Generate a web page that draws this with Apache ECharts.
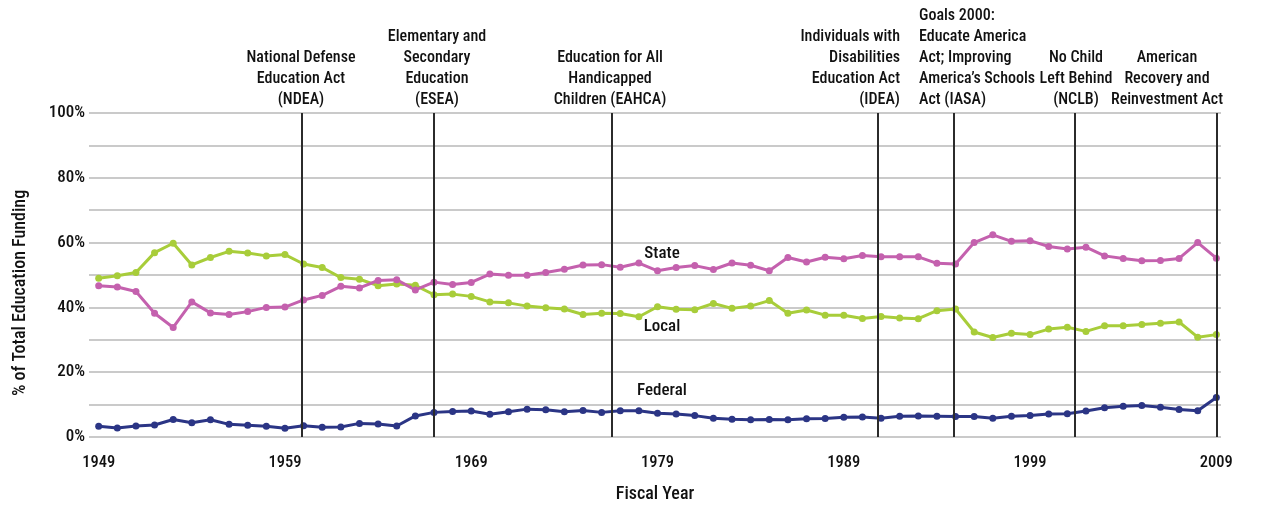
<!DOCTYPE html>
<html>
<head>
<meta charset="utf-8">
<script src="https://cdn.jsdelivr.net/npm/echarts@6/dist/echarts.min.js"></script>
<style>
  html, body { margin: 0; padding: 0; background: #fff; }
  #chart { width: 1274px; height: 508px; }
</style>
</head>
<body>
<div id="chart"></div>
<script>
const years = [
  1949, 1950, 1951, 1952, 1953, 1954, 1955, 1956, 1957, 1958, 1959,
  1960, 1961, 1962, 1963, 1964, 1965, 1966, 1967, 1968, 1969,
  1970, 1971, 1972, 1973, 1974, 1975, 1976, 1977, 1978, 1979,
  1980, 1981, 1982, 1983, 1984, 1985, 1986, 1987, 1988, 1989,
  1990, 1991, 1992, 1993, 1994, 1995, 1996, 1997, 1998, 1999,
  2000, 2001, 2002, 2003, 2004, 2005, 2006, 2007, 2008, 2009
]
const state = [
  46.7, 46.3, 44.9, 38.2, 33.8, 41.7, 38.3, 37.8, 38.7, 40.0, 40.1,
  42.3, 43.7, 46.5, 46.0, 48.3, 48.5, 45.4, 47.8, 47.1, 47.7,
  50.3, 49.9, 49.9, 50.8, 51.8, 53.1, 53.2, 52.4, 53.7, 51.3,
  52.3, 52.9, 51.7, 53.7, 53.0, 51.3, 55.4, 54.0, 55.5, 55.0,
  56.0, 55.6, 55.6, 55.6, 53.6, 53.4, 60.0, 62.4, 60.4, 60.6,
  58.8, 58.0, 58.6, 55.9, 55.1, 54.4, 54.5, 55.1, 60.0, 55.2
]
const local = [
  49.0, 49.8, 50.8, 56.9, 59.8, 53.1, 55.4, 57.3, 56.8, 55.9, 56.3,
  53.4, 52.3, 49.2, 48.7, 46.7, 47.2, 46.8, 43.9, 44.1, 43.4,
  41.7, 41.4, 40.4, 39.9, 39.5, 37.8, 38.2, 38.1, 37.1, 40.2,
  39.4, 39.3, 41.2, 39.7, 40.4, 42.1, 38.2, 39.2, 37.6, 37.6,
  36.6, 37.2, 36.7, 36.5, 39.0, 39.5, 32.4, 30.7, 32.0, 31.6,
  33.3, 33.9, 32.6, 34.3, 34.3, 34.7, 35.1, 35.5, 30.8, 31.6
]
const federal = [
  3.3, 2.8, 3.4, 3.7, 5.4, 4.4, 5.3, 3.9, 3.6, 3.3, 2.7,
  3.5, 3.0, 3.1, 4.2, 4.0, 3.4, 6.5, 7.6, 7.9, 8.0,
  7.0, 7.8, 8.6, 8.4, 7.8, 8.2, 7.6, 8.1, 8.1, 7.3,
  7.1, 6.6, 5.8, 5.5, 5.3, 5.4, 5.3, 5.6, 5.7, 6.1,
  6.2, 5.8, 6.4, 6.5, 6.4, 6.3, 6.3, 5.8, 6.4, 6.6,
  7.1, 7.2, 8.0, 9.0, 9.5, 9.7, 9.2, 8.5, 8.1, 12.2
]
const tickYears = [1949, 1959, 1969, 1979, 1989, 1999, 2009]
// where the act lines sit on the year axis, as drawn
const actLines = [1959.92, 1967.0, 1976.54, 1990.8, 1994.9, 2001.4, 2009.0]
const actLabels = [
  'National Defense\nEducation Act\n(NDEA)',
  'Elementary and\nSecondary\nEducation\n(ESEA)',
  'Education for All\nHandicapped\nChildren (EAHCA)',
  'Individuals with\nDisabilities\nEducation Act\n(IDEA)',
  'Goals 2000:\nEducate America\nAct; Improving\nAmerica\u2019s Schools\nAct (IASA)',
  'No Child\nLeft Behind\n(NCLB)',
  'American\nRecovery and\nReinvestment Act'
]
// caption anchor (px) and alignment for each act
const actLabelPos = [
  [301, 'center'], [437, 'center'], [610, 'center'], [900, 'right'],
  [919, 'left'], [1076, 'center'], [1167, 'center']
]

const FONT = '"Roboto Condensed", "Liberation Sans Narrow", sans-serif'
const INK = '#111111'
const WEIGHT = 500

const chart = echarts.init(document.getElementById('chart'))

function pairs(vals) { return years.map((y, i) => [y, vals[i]]) }

function lineSeries(name, color, vals, labelAt, extra) {
  return Object.assign({
    name,
    type: 'line',
    data: pairs(vals),
    symbol: 'circle',
    symbolSize: 7,
    lineStyle: { color, width: 3 },
    itemStyle: { color },
    emphasis: { disabled: true },
    markPoint: {
      silent: true,
      symbol: 'circle',
      symbolSize: 0,
      data: [{
        coord: labelAt,
        label: { show: true, position: 'inside', formatter: name, color: INK, fontSize: 17, fontWeight: WEIGHT, fontFamily: FONT }
      }]
    }
  }, extra || {})
}

chart.setOption({
  animation: false,
  textStyle: { fontFamily: FONT },
  grid: { left: 89, right: 53, top: 113, bottom: 68 },
  xAxis: {
    type: 'value',
    min: 1948.48,
    max: 2009.25,
    name: 'Fiscal Year',
    nameLocation: 'middle',
    nameGap: 48,
    nameTextStyle: { color: INK, fontSize: 18, fontWeight: WEIGHT, fontFamily: FONT },
    axisLine: { show: false },
    axisTick: { show: false },
    splitLine: { show: false },
    axisLabel: {
      customValues: tickYears,
      color: INK, fontSize: 16.5, fontWeight: WEIGHT, fontFamily: FONT, margin: 17,
      formatter: v => String(v)
    }
  },
  yAxis: {
    type: 'value',
    min: 0,
    max: 100,
    interval: 10,
    axisLine: { show: false },
    axisTick: { show: false },
    splitLine: { lineStyle: { color: '#b8b8b8', width: 1.5 } },
    axisLabel: {
      color: INK, fontSize: 17, fontWeight: WEIGHT, fontFamily: FONT, margin: 4,
      formatter: v => (v % 20 === 0 ? v + '%' : '')
    }
  },
  series: [
    lineSeries('Local', '#a8cd3a', local, [1979.24, 34.0]),
    lineSeries('State', '#c461ae', state, [1979.24, 56.6]),
    lineSeries('Federal', '#2b3585', federal, [1979.24, 14.4], {
      markLine: {
        silent: true,
        symbol: 'none',
        label: { show: false },
        lineStyle: { color: '#2b2b2b', width: 2, type: 'solid' },
        data: actLines.map(x => ({ xAxis: x }))
      }
    })
  ],
  graphic: [
    {
      type: 'text',
      x: 20, y: 293,
      rotation: Math.PI / 2,
      style: {
        text: '% of Total Education Funding',
        fill: INK, fontSize: 18, fontWeight: WEIGHT, fontFamily: FONT,
        align: 'center', verticalAlign: 'middle'
      }
    }
  ].concat(actLabels.map((t, i) => ({
    type: 'text',
    x: actLabelPos[i][0],
    y: 110,
    style: {
      text: t,
      fill: INK, fontSize: 16, fontWeight: WEIGHT, fontFamily: FONT, lineHeight: 21,
      align: actLabelPos[i][1], verticalAlign: 'bottom'
    }
  })))
})
</script>
</body>
</html>
